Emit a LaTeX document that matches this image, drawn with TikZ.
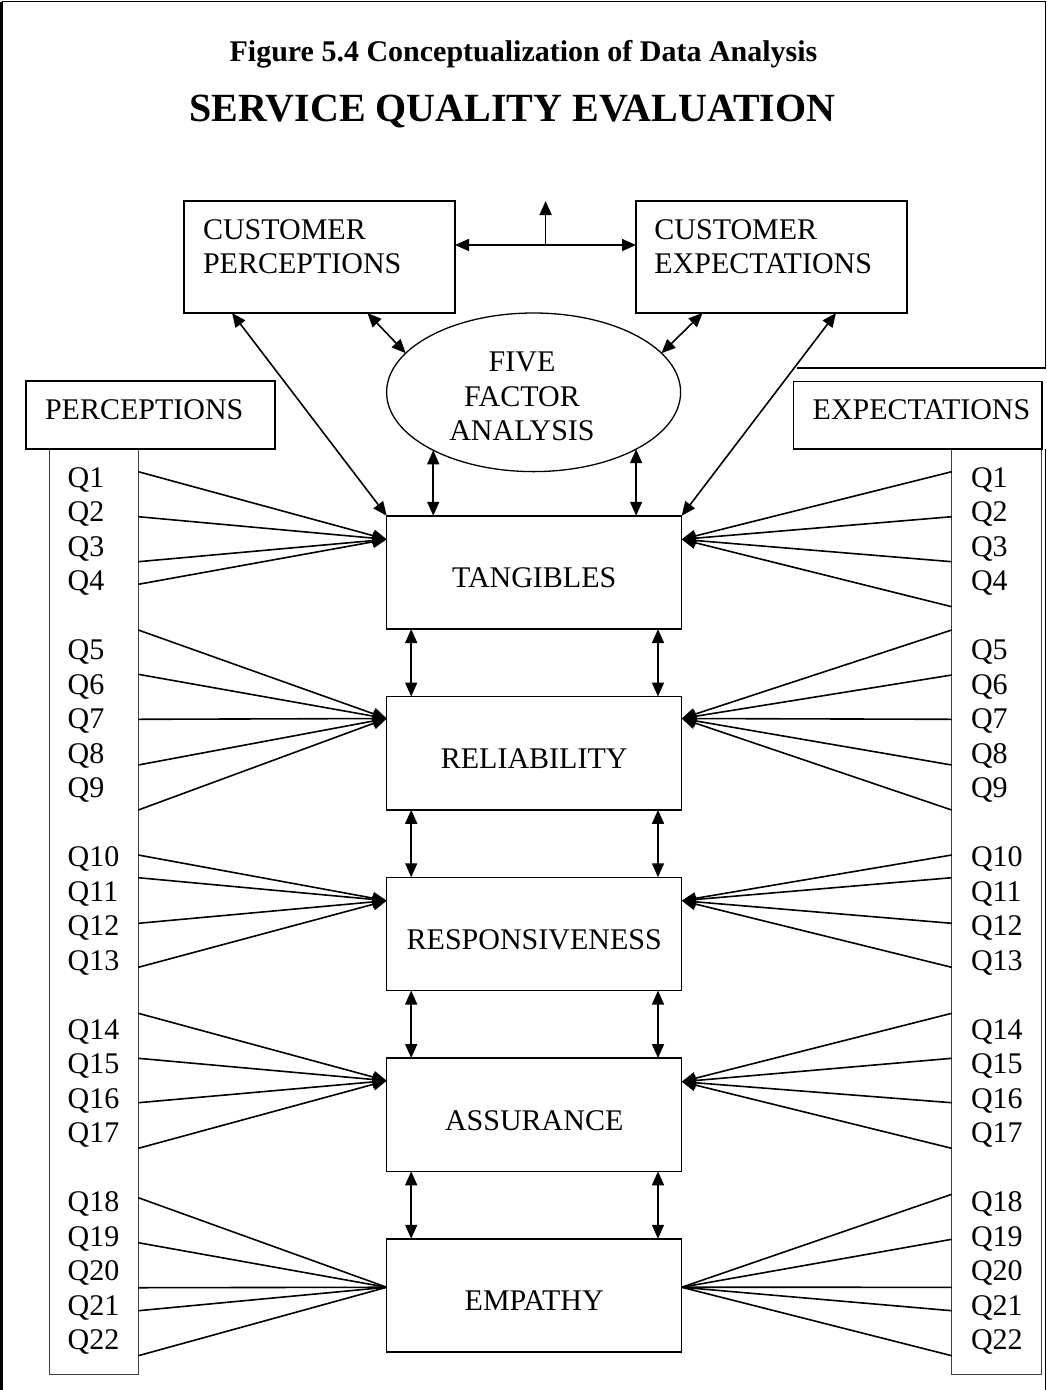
\documentclass[tikz,border=0pt]{standalone}
\usepackage{fontspec}
\setmainfont{Liberation Serif}
\usetikzlibrary{arrows.meta,shapes.geometric}

\begin{document}
\begin{tikzpicture}[x=1pt,y=-1pt,
  every node/.style={inner sep=0pt, outer sep=0pt},
  lbl/.style={font=\fontsize{30}{34.5}\selectfont},
  boxed/.style={draw, line width=1.5pt, fill=white},
  factor/.style={boxed, minimum width=295pt, minimum height=113.3pt, lbl,
                 text height=36pt, text depth=5pt},
  qcol/.style={draw=black!75, line width=1pt},
  link/.style={line width=1.6pt},
  onehead/.style={-{Triangle[length=14pt,width=12pt]}},
  twohead/.style={{Triangle[length=14pt,width=12pt]}-{Triangle[length=14pt,width=12pt]}},
]
\useasboundingbox (0,0) rectangle (1047,1390);
\fill[white] (0,0) rectangle (1047,1390);

% page frame
\draw[line width=3pt] (1.5,1390) -- (1.5,1.5);
\draw[line width=1.5pt] (1.5,1.5) -- (1045.5,1.5) -- (1045.5,368) -- (797,368);
\draw[line width=1.2pt] (1045.5,449) -- (1045.5,1390);

% titles
\node[font=\bfseries\fontsize{30}{36}\selectfont, anchor=base] (fig) at (523.5,61.7)
  {Figure 5.4 Conceptualization of Data Analysis};
\node[font=\bfseries\fontsize{40}{48}\selectfont, anchor=base] (sqe) at (512.5,121.7)
  {SERVICE QUALITY EVALUATION};

% customer boxes
\node[boxed, minimum width=271pt, minimum height=112pt, anchor=north west] (cp) at (184,201) {};
\node[lbl, anchor=base west] (cptext) at (203,239)
  {\begin{tabular}[t]{@{}l@{}}CUSTOMER\\PERCEPTIONS\end{tabular}};
\node[boxed, minimum width=271pt, minimum height=112pt, anchor=north west] (ce) at (636,201) {};
\node[lbl, anchor=base west] (cetext) at (654.4,239)
  {\begin{tabular}[t]{@{}l@{}}CUSTOMER\\EXPECTATIONS\end{tabular}};

% five factor analysis
\node[draw, ellipse, line width=1.3pt, minimum width=294pt, minimum height=158.6pt] (ell) at (533.6,392.3) {};
\node[lbl, anchor=base] (elltext) at (522,371.7)
  {\begin{tabular}[t]{@{}c@{}}FIVE\\FACTOR\\ANALYSIS\end{tabular}};

% question columns
\node[qcol, minimum width=89.3pt, minimum height=925pt, anchor=north west] (qL) at (49,449) {};
\node[boxed, minimum width=249pt, minimum height=68pt, anchor=north west] (perc) at (26,381) {};
\node[lbl, anchor=base west] (perctext) at (45,419.3) {PERCEPTIONS};
\node[qcol, minimum width=90pt, minimum height=925pt, anchor=north west] (qR) at (951.7,449) {};
\node[boxed, minimum width=248.7pt, minimum height=67.3pt, anchor=north west] (expe) at (793.3,381.7) {};
\node[lbl, anchor=base west] (expetext) at (812.7,419.3) {EXPECTATIONS};

\foreach \q/\n in {1/0,2/1,3/2,4/3,5/5,6/6,7/7,8/8,9/9,10/11,11/12,12/13,13/14,
                   14/16,15/17,16/18,17/19,18/21,19/22,20/23,21/24,22/25} {
  \node[lbl, anchor=base west] (pq\q) at (67.7,{487+34.5*\n}) {Q\q};
  \node[lbl, anchor=base west] (eq\q) at (971,{487+34.5*\n}) {Q\q};
}

% service quality dimensions
\node[factor] (tang) at (534.2,572.4)   {TANGIBLES};
\node[factor] (rel)  at (534.2,753.15)  {RELIABILITY};
\node[factor] (resp) at (534.2,933.9)   {RESPONSIVENESS};
\node[factor] (assu) at (534.2,1114.65) {ASSURANCE};
\node[factor] (emp)  at (534.2,1295.4)  {EMPATHY};

% entry points of the item links
\coordinate (tangL) at ([yshift=-23.6pt]tang.north west);
\coordinate (tangR) at ([yshift=-23.6pt]tang.north east);
\coordinate (relL)  at ([yshift=-22pt]rel.north west);
\coordinate (relR)  at ([yshift=-22pt]rel.north east);
\coordinate (respL) at ([yshift=-23.4pt]resp.north west);
\coordinate (respR) at ([yshift=-23.4pt]resp.north east);
\coordinate (assuL) at ([yshift=-22.7pt]assu.north west);
\coordinate (assuR) at ([yshift=-23.7pt]assu.north east);
\coordinate (empL)  at ([yshift=-48.5pt]emp.north west);
\coordinate (empR)  at ([yshift=-48.5pt]emp.north east);

% perception items
\foreach \y [count=\i] in {471.7,516.7,561.7,584.3} {
  \coordinate (pa\i) at (138.3,\y); \draw[link,onehead] (pa\i) -- (tangL); }
\foreach \y [count=\i] in {630,674.3,719.3,765,810} {
  \coordinate (pb\i) at (138.3,\y); \draw[link,onehead] (pb\i) -- (relL); }
\foreach \y [count=\i] in {855,877.7,923.3,967.3} {
  \coordinate (pc\i) at (138.3,\y); \draw[link,onehead] (pc\i) -- (respL); }
\foreach \y [count=\i] in {1013.3,1058.3,1102.7,1148.3} {
  \coordinate (pd\i) at (138.3,\y); \draw[link,onehead] (pd\i) -- (assuL); }
\foreach \y [count=\i] in {1197.7,1242.7,1287.7,1310.7,1355.7} {
  \coordinate (pe\i) at (138.3,\y); \draw[link] (pe\i) -- (empL); }

% expectation items
\foreach \y [count=\i] in {471.7,516.7,561.7,606.7} {
  \coordinate (ea\i) at (951.7,\y); \draw[link,onehead] (ea\i) -- (tangR); }
\foreach \y [count=\i] in {630,675,719.3,765,810} {
  \coordinate (eb\i) at (951.7,\y); \draw[link,onehead] (eb\i) -- (relR); }
\foreach \y [count=\i] in {855,877.7,923.3,967.3} {
  \coordinate (ec\i) at (951.7,\y); \draw[link,onehead] (ec\i) -- (respR); }
\foreach \y [count=\i] in {1013.3,1058.3,1102.7,1148.3} {
  \coordinate (ed\i) at (951.7,\y); \draw[link,onehead] (ed\i) -- (assuR); }
\foreach \y [count=\i] in {1194.3,1239.3,1287.3,1310.7,1355.7} {
  \coordinate (ee\i) at (951.7,\y); \draw[link] (ee\i) -- (empR); }

% links between the dimensions
\foreach \a/\b in {tang/rel,rel/resp,resp/assu,assu/emp} {
  \draw[link,twohead] ([xshift=24.5pt]\a.south west) -- ([xshift=24.5pt]\b.north west);
  \draw[link,twohead] ([xshift=-23.7pt]\a.south east) -- ([xshift=-23.7pt]\b.north east);
}

% factor analysis links
\draw[link,twohead] (ell.210) -- (ell.210 |- tang.north);
\draw[link,twohead] (ell.331) -- (ell.331 |- tang.north);
\draw[link,twohead] ([xshift=183.4pt]cp.south west) -- (ell.163);
\draw[link,twohead] ([xshift=66.6pt]ce.south west) -- (ell.17);

% customer perceptions / expectations links
\draw[link,twohead] ([xshift=48pt]cp.south west) -- (tang.north west);
\draw[link,twohead] ([xshift=-71pt]ce.south east) -- (tang.north east);
\draw[link,twohead] ([yshift=12pt]cp.east) -- ([yshift=12pt]ce.west);
\coordinate (gapfoot) at (545.6,245);
\draw[link,onehead] (gapfoot) -- (gapfoot |- cp.north);
\end{tikzpicture}
\end{document}
